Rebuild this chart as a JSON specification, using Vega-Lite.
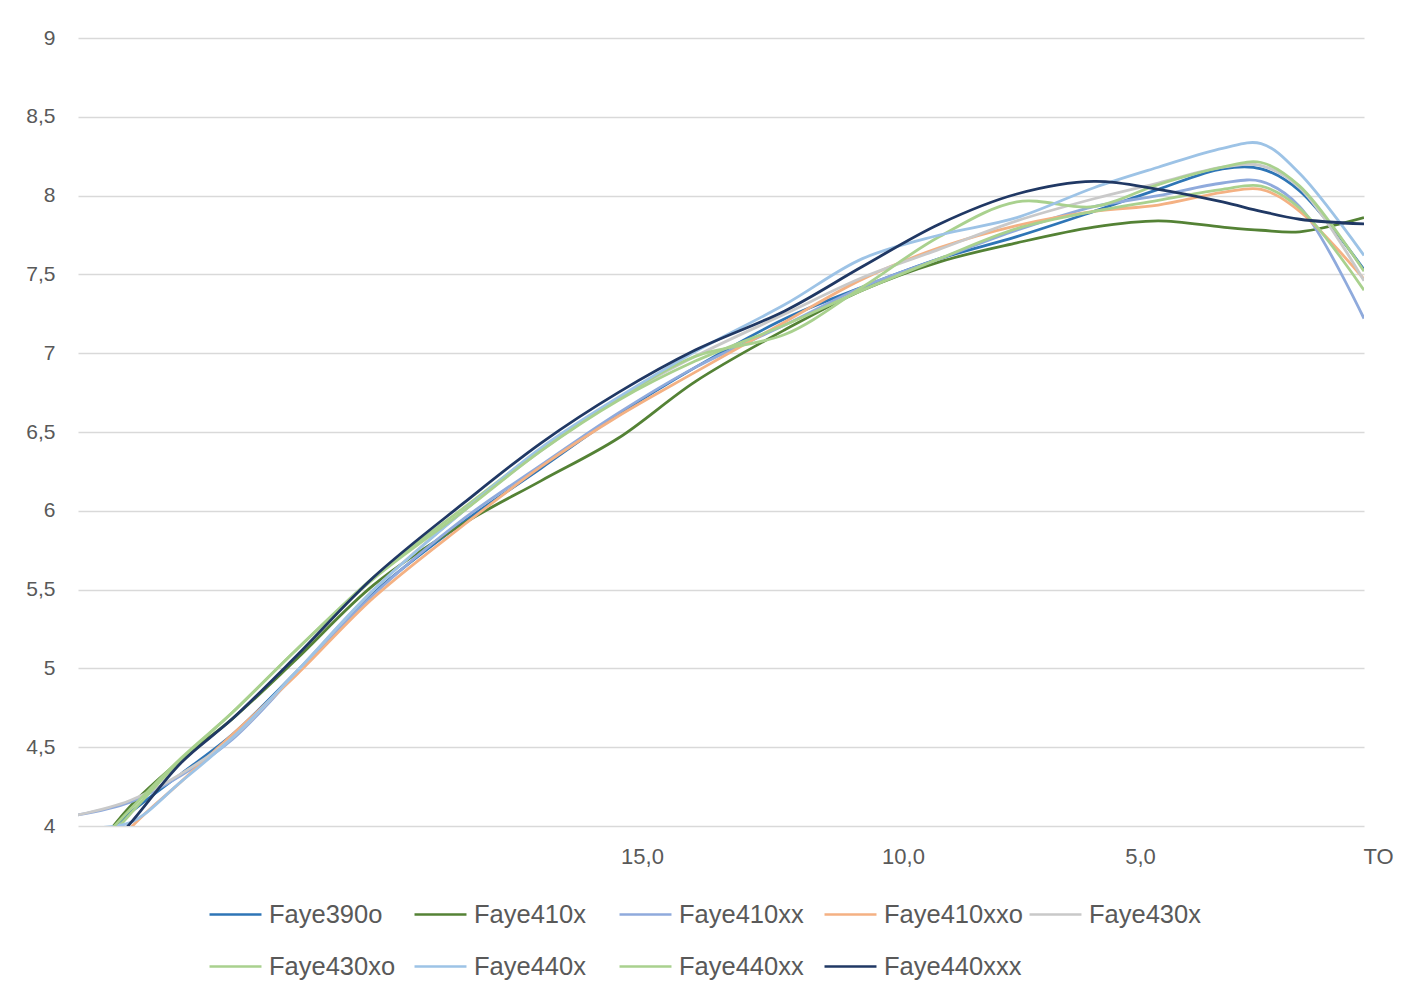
{
  "$schema": "https://vega.github.io/schema/vega-lite/v6.json",
  "width": 1286,
  "height": 788,
  "autosize": "none",
  "padding": {"left": 78, "top": 38, "right": 49, "bottom": 173},
  "background": "white",
  "config": {
    "view": {"stroke": null},
    "font": "Liberation Sans",
    "axis": {"labelFont": "Liberation Sans", "labelColor": "#595959", "labelFontSize": 21, "ticks": false, "domain": false, "title": null},
    "legend": {"labelFont": "Liberation Sans"}
  },
  "data": {"values": [
    {"s":"Faye390o","t":0,"v":3.80},{"s":"Faye390o","t":4,"v":4.08},{"s":"Faye390o","t":8,"v":4.33},{"s":"Faye390o","t":12,"v":4.58},{"s":"Faye390o","t":17,"v":4.98},{"s":"Faye390o","t":23,"v":5.48},{"s":"Faye390o","t":30,"v":5.93},{"s":"Faye390o","t":36,"v":6.27},{"s":"Faye390o","t":42,"v":6.61},{"s":"Faye390o","t":48,"v":6.91},{"s":"Faye390o","t":55,"v":7.22},{"s":"Faye390o","t":61,"v":7.42},{"s":"Faye390o","t":67,"v":7.60},{"s":"Faye390o","t":73,"v":7.74},{"s":"Faye390o","t":79,"v":7.90},{"s":"Faye390o","t":84,"v":8.04},{"s":"Faye390o","t":89,"v":8.17},{"s":"Faye390o","t":92,"v":8.17},{"s":"Faye390o","t":95,"v":8.03},{"s":"Faye390o","t":100,"v":7.53},
    {"s":"Faye410x","t":0,"v":3.70},{"s":"Faye410x","t":4,"v":4.12},{"s":"Faye410x","t":8,"v":4.42},{"s":"Faye410x","t":12,"v":4.68},{"s":"Faye410x","t":17,"v":5.06},{"s":"Faye410x","t":23,"v":5.53},{"s":"Faye410x","t":30,"v":5.92},{"s":"Faye410x","t":36,"v":6.19},{"s":"Faye410x","t":42,"v":6.46},{"s":"Faye410x","t":48,"v":6.82},{"s":"Faye410x","t":55,"v":7.15},{"s":"Faye410x","t":61,"v":7.40},{"s":"Faye410x","t":67,"v":7.58},{"s":"Faye410x","t":73,"v":7.70},{"s":"Faye410x","t":79,"v":7.80},{"s":"Faye410x","t":84,"v":7.84},{"s":"Faye410x","t":89,"v":7.80},{"s":"Faye410x","t":92,"v":7.78},{"s":"Faye410x","t":95,"v":7.77},{"s":"Faye410x","t":100,"v":7.86},
    {"s":"Faye410xx","t":0,"v":4.07},{"s":"Faye410xx","t":4,"v":4.15},{"s":"Faye410xx","t":8,"v":4.32},{"s":"Faye410xx","t":12,"v":4.55},{"s":"Faye410xx","t":17,"v":4.97},{"s":"Faye410xx","t":23,"v":5.47},{"s":"Faye410xx","t":30,"v":5.95},{"s":"Faye410xx","t":36,"v":6.29},{"s":"Faye410xx","t":42,"v":6.62},{"s":"Faye410xx","t":48,"v":6.91},{"s":"Faye410xx","t":55,"v":7.18},{"s":"Faye410xx","t":61,"v":7.42},{"s":"Faye410xx","t":67,"v":7.60},{"s":"Faye410xx","t":73,"v":7.78},{"s":"Faye410xx","t":79,"v":7.93},{"s":"Faye410xx","t":84,"v":8.00},{"s":"Faye410xx","t":89,"v":8.08},{"s":"Faye410xx","t":92,"v":8.09},{"s":"Faye410xx","t":95,"v":7.93},{"s":"Faye410xx","t":100,"v":7.22},
    {"s":"Faye410xxo","t":0,"v":3.55},{"s":"Faye410xxo","t":4,"v":3.98},{"s":"Faye410xxo","t":8,"v":4.28},{"s":"Faye410xxo","t":12,"v":4.58},{"s":"Faye410xxo","t":17,"v":4.96},{"s":"Faye410xxo","t":23,"v":5.45},{"s":"Faye410xxo","t":30,"v":5.91},{"s":"Faye410xxo","t":36,"v":6.28},{"s":"Faye410xxo","t":42,"v":6.60},{"s":"Faye410xxo","t":48,"v":6.88},{"s":"Faye410xxo","t":55,"v":7.20},{"s":"Faye410xxo","t":61,"v":7.47},{"s":"Faye410xxo","t":67,"v":7.67},{"s":"Faye410xxo","t":73,"v":7.81},{"s":"Faye410xxo","t":79,"v":7.90},{"s":"Faye410xxo","t":84,"v":7.94},{"s":"Faye410xxo","t":89,"v":8.02},{"s":"Faye410xxo","t":92,"v":8.04},{"s":"Faye410xxo","t":95,"v":7.90},{"s":"Faye410xxo","t":100,"v":7.47},
    {"s":"Faye430x","t":0,"v":4.07},{"s":"Faye430x","t":4,"v":4.16},{"s":"Faye430x","t":8,"v":4.33},{"s":"Faye430x","t":12,"v":4.56},{"s":"Faye430x","t":17,"v":4.98},{"s":"Faye430x","t":23,"v":5.50},{"s":"Faye430x","t":30,"v":6.00},{"s":"Faye430x","t":36,"v":6.38},{"s":"Faye430x","t":42,"v":6.71},{"s":"Faye430x","t":48,"v":6.98},{"s":"Faye430x","t":55,"v":7.25},{"s":"Faye430x","t":61,"v":7.48},{"s":"Faye430x","t":67,"v":7.66},{"s":"Faye430x","t":73,"v":7.84},{"s":"Faye430x","t":79,"v":7.98},{"s":"Faye430x","t":84,"v":8.08},{"s":"Faye430x","t":89,"v":8.18},{"s":"Faye430x","t":92,"v":8.19},{"s":"Faye430x","t":95,"v":8.05},{"s":"Faye430x","t":100,"v":7.46},
    {"s":"Faye430xo","t":0,"v":3.70},{"s":"Faye430xo","t":4,"v":4.07},{"s":"Faye430xo","t":8,"v":4.42},{"s":"Faye430xo","t":12,"v":4.72},{"s":"Faye430xo","t":17,"v":5.12},{"s":"Faye430xo","t":23,"v":5.58},{"s":"Faye430xo","t":30,"v":6.02},{"s":"Faye430xo","t":36,"v":6.39},{"s":"Faye430xo","t":42,"v":6.71},{"s":"Faye430xo","t":48,"v":6.98},{"s":"Faye430xo","t":55,"v":7.12},{"s":"Faye430xo","t":61,"v":7.42},{"s":"Faye430xo","t":67,"v":7.74},{"s":"Faye430xo","t":73,"v":7.96},{"s":"Faye430xo","t":79,"v":7.93},{"s":"Faye430xo","t":84,"v":8.07},{"s":"Faye430xo","t":89,"v":8.18},{"s":"Faye430xo","t":92,"v":8.21},{"s":"Faye430xo","t":95,"v":8.06},{"s":"Faye430xo","t":100,"v":7.52},
    {"s":"Faye440x","t":0,"v":3.99},{"s":"Faye440x","t":4,"v":4.02},{"s":"Faye440x","t":8,"v":4.28},{"s":"Faye440x","t":12,"v":4.56},{"s":"Faye440x","t":17,"v":4.98},{"s":"Faye440x","t":23,"v":5.50},{"s":"Faye440x","t":30,"v":6.00},{"s":"Faye440x","t":36,"v":6.40},{"s":"Faye440x","t":42,"v":6.72},{"s":"Faye440x","t":48,"v":7.01},{"s":"Faye440x","t":55,"v":7.31},{"s":"Faye440x","t":61,"v":7.60},{"s":"Faye440x","t":67,"v":7.75},{"s":"Faye440x","t":73,"v":7.86},{"s":"Faye440x","t":79,"v":8.05},{"s":"Faye440x","t":84,"v":8.18},{"s":"Faye440x","t":89,"v":8.30},{"s":"Faye440x","t":92,"v":8.33},{"s":"Faye440x","t":95,"v":8.14},{"s":"Faye440x","t":100,"v":7.62},
    {"s":"Faye440xx","t":0,"v":3.75},{"s":"Faye440xx","t":4,"v":4.10},{"s":"Faye440xx","t":8,"v":4.43},{"s":"Faye440xx","t":12,"v":4.72},{"s":"Faye440xx","t":17,"v":5.12},{"s":"Faye440xx","t":23,"v":5.57},{"s":"Faye440xx","t":30,"v":6.00},{"s":"Faye440xx","t":36,"v":6.38},{"s":"Faye440xx","t":42,"v":6.70},{"s":"Faye440xx","t":48,"v":6.95},{"s":"Faye440xx","t":55,"v":7.18},{"s":"Faye440xx","t":61,"v":7.40},{"s":"Faye440xx","t":67,"v":7.60},{"s":"Faye440xx","t":73,"v":7.79},{"s":"Faye440xx","t":79,"v":7.90},{"s":"Faye440xx","t":84,"v":7.97},{"s":"Faye440xx","t":89,"v":8.04},{"s":"Faye440xx","t":92,"v":8.06},{"s":"Faye440xx","t":95,"v":7.92},{"s":"Faye440xx","t":100,"v":7.40},
    {"s":"Faye440xxx","t":0,"v":3.65},{"s":"Faye440xxx","t":4,"v":4.01},{"s":"Faye440xxx","t":8,"v":4.40},{"s":"Faye440xxx","t":12,"v":4.68},{"s":"Faye440xxx","t":17,"v":5.08},{"s":"Faye440xxx","t":23,"v":5.58},{"s":"Faye440xxx","t":30,"v":6.05},{"s":"Faye440xxx","t":36,"v":6.43},{"s":"Faye440xxx","t":42,"v":6.75},{"s":"Faye440xxx","t":48,"v":7.02},{"s":"Faye440xxx","t":55,"v":7.27},{"s":"Faye440xxx","t":61,"v":7.55},{"s":"Faye440xxx","t":67,"v":7.82},{"s":"Faye440xxx","t":73,"v":8.01},{"s":"Faye440xxx","t":79,"v":8.09},{"s":"Faye440xxx","t":84,"v":8.04},{"s":"Faye440xxx","t":89,"v":7.96},{"s":"Faye440xxx","t":92,"v":7.90},{"s":"Faye440xxx","t":95,"v":7.85},{"s":"Faye440xxx","t":100,"v":7.82}
  ]},
  "mark": {"type": "line", "interpolate": "catmull-rom", "strokeWidth": 2.8, "clip": true},
  "encoding": {
    "x": {
      "field": "t", "type": "quantitative",
      "scale": {"domain": [0, 100], "nice": false, "zero": false},
      "axis": {
        "values": [42.77, 63.06, 81.49, 100],
        "labelExpr": "datum.value > 99 ? 'TO' : datum.value > 80 ? '5,0' : datum.value > 60 ? '10,0' : '15,0'",
        "labelOffset": 14, "labelPadding": 20, "labelFontSize": 22,
        "labelFlush": false, "labelOverlap": false, "labelBound": false,
        "grid": false
      }
    },
    "y": {
      "field": "v", "type": "quantitative",
      "scale": {"domain": [4, 9], "nice": false, "zero": false},
      "axis": {
        "values": [4, 4.5, 5, 5.5, 6, 6.5, 7, 7.5, 8, 8.5, 9],
        "format": ".1~f",
        "labelExpr": "replace(datum.label, '.', ',')",
        "labelPadding": 23, "labelFontSize": 21,
        "grid": true, "gridColor": "#D9D9D9", "gridWidth": 1.5
      }
    },
    "color": {
      "field": "s", "type": "nominal",
      "scale": {
        "domain": ["Faye390o", "Faye410x", "Faye410xx", "Faye410xxo", "Faye430x", "Faye430xo", "Faye440x", "Faye440xx", "Faye440xxx"],
        "range": ["#2E75B6", "#548235", "#8FAADC", "#F4B183", "#C9C9C9", "#A9D18E", "#9DC3E6", "#A9D18E", "#203864"]
      },
      "legend": {
        "title": null, "orient": "none", "legendX": 130, "legendY": 849,
        "direction": "horizontal", "columns": 5, "gridAlign": "all",
        "symbolType": "stroke", "symbolSize": 2700, "symbolStrokeWidth": 2.6,
        "labelFontSize": 25.5, "labelColor": "#595959", "labelOffset": 6, "labelLimit": 400,
        "columnPadding": 1, "rowPadding": 11
      }
    }
  }
}
